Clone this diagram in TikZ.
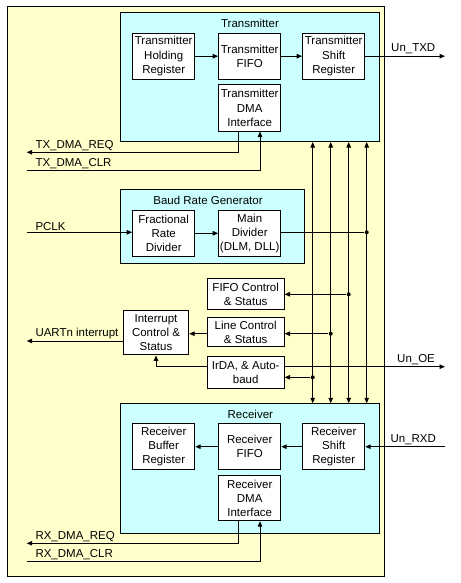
\documentclass[tikz,border=0pt]{standalone}
\usepackage{fontspec}
\setmainfont{Liberation Sans}
\usetikzlibrary{arrows.meta}
\definecolor{uartyellow}{RGB}{255,255,204}
\definecolor{blockcyan}{RGB}{204,255,255}
\begin{document}
\begin{tikzpicture}[x=1pt,y=-1pt,line width=1pt,>={Triangle[length=5.5pt,width=4.5pt]},
                font=\fontsize{11.5}{14.2}\selectfont,
                blk/.style={draw,fill=white,align=center,inner sep=0pt,minimum width=62pt,minimum height=46pt},
                grp/.style={draw,fill=blockcyan,anchor=north west,inner sep=0pt},
                sig/.style={anchor=base west,inner sep=0pt},
                dot/.style={circle,fill,inner sep=0pt,minimum size=4pt}]
                \useasboundingbox (0,0) rectangle (460,583);
                \node[draw,fill=uartyellow,anchor=north west,inner sep=0pt,minimum width=377pt,minimum height=570pt] (UART) at (7,6) {};
                % transmitter
                \node[grp,minimum width=258.7pt,minimum height=128.7pt] (TX) at (120,12.3) {};
                \node (TXT) at (250,23.3) {Transmitter};
                \node[blk] (THR) at (163.7,56.2) {Transmitter\\Holding\\Register};
                \node[blk] (TF) at (249.7,56.2) {Transmitter\\FIFO};
                \node[blk] (TSR) at (333.7,56.2) {Transmitter\\Shift\\Register};
                \node[blk] (TD) at (249.7,108) {Transmitter\\DMA\\Interface};
                \draw[->] (THR) -- (TF);
                \draw[->] (TF) -- (TSR);
                \coordinate (TXD) at (445,56.2);
                \draw[->] (TSR) -- (TXD);
                \node[sig] (TXDL) at (390.7,52) {Un\_TXD};
                \coordinate (TXREQ) at (26.7,152.3);
                \coordinate (TXCLR) at (26.7,170.7);
                \draw[->] ([xshift=-11pt]TD.south) |- (TXREQ);
                \draw[->] (TXCLR) -| ([xshift=10.3pt]TD.south);
                \node[sig] (TXREQL) at (35,148) {TX\_DMA\_REQ};
                \node[sig] (TXCLRL) at (35,166.8) {TX\_DMA\_CLR};
                % baud rate generator
                \node[grp,minimum width=184pt,minimum height=73.4pt] (BRG) at (120,189.3) {};
                \node (BRGT) at (208,200) {Baud Rate Generator};
                \node[blk] (FRD) at (163.7,233.3) {Fractional\\Rate\\Divider};
                \node[blk] (MD) at (249.7,233.3) {Main\\Divider\\(DLM, DLL)};
                \coordinate (PCLK) at (26.7,232.3);
                \draw[->] (PCLK) -- (PCLK -| FRD.west);
                \draw[->] (FRD) -- (MD);
                \node[sig] (PCLKL) at (35,230.8) {PCLK};
                % receiver
                \node[grp,minimum width=258.7pt,minimum height=129.4pt] (RX) at (120,403.3) {};
                \node (RXT) at (250.3,414) {Receiver};
                \node[blk] (RBR) at (163.7,446.7) {Receiver\\Buffer\\Register};
                \node[blk] (RF) at (249.7,446.7) {Receiver\\FIFO};
                \node[blk] (RSR) at (333.7,446.7) {Receiver\\Shift\\Register};
                \node[blk,minimum height=44.7pt] (RD) at (249.7,498.3) {Receiver\\DMA\\Interface};
                \draw[->] (RF) -- (RBR);
                \draw[->] (RSR) -- (RF);
                \coordinate (RXD) at (445,446.7);
                \draw[->] (RXD) -- (RSR);
                \node[sig] (RXDL) at (390,442.4) {Un\_RXD};
                \coordinate (RXREQ) at (26.7,543.3);
                \coordinate (RXCLR) at (26.7,561.7);
                \draw[->] ([xshift=-11pt]RD.south) |- (RXREQ);
                \draw[->] (RXCLR) -| ([xshift=10.3pt]RD.south);
                \node[sig] (RXREQL) at (35,539) {RX\_DMA\_REQ};
                \node[sig] (RXCLRL) at (35,557.4) {RX\_DMA\_CLR};
                % bus
                \foreach \b/\x in {1/312.7,2/330.7,3/348.7,4/366.7} {
                    \coordinate (B\b) at (\x,270);
                    \draw[<->] (TX.south -| B\b) -- (RX.north -| B\b);
                }
                \node[dot] (D4) at (B4 |- PCLK) {};
                \draw (MD.east |- PCLK) -- (D4);
                % control and status
                \node[blk,minimum width=76.7pt,minimum height=31.3pt] (FC) at (245.7,294.3) {FIFO Control\\\& Status};
                \node[blk,minimum width=76.7pt,minimum height=29.3pt] (LC) at (245.7,332) {Line Control\\\& Status};
                \node[blk,minimum width=76.7pt,minimum height=31.7pt] (IR) at (245.7,372.5) {IrDA, \& Auto-\\baud};
                \node[blk,minimum width=65.3pt,minimum height=44.3pt] (IC) at (156,332.8) {Interrupt\\Control \&\\Status};
                \node[dot] (D3) at (B3 |- FC) {};
                \draw[->] (D3) -- (FC);
                \node[dot] (D2) at (330.7,333.7) {};
                \draw[->] (D2) -- (D2 -| LC.east);
                \draw[->] (D2 -| LC.west) -- (D2 -| IC.east);
                \node[dot] (D1) at (312.7,377.3) {};
                \draw[->] (D1) -- (D1 -| IR.east);
                \coordinate (OE) at (445,366.7);
                \draw[->] (OE -| IR.east) -- (OE);
                \node[sig] (OEL) at (396.7,362.4) {Un\_OE};
                \draw[->] (IR.west |- OE) -| (IC.south);
                \coordinate (IRQ) at (26.7,341);
                \draw[->] (IC.west |- IRQ) -- (IRQ);
                \node[sig] (IRQL) at (35,336) {UARTn interrupt};
            \end{tikzpicture}
\end{document}
